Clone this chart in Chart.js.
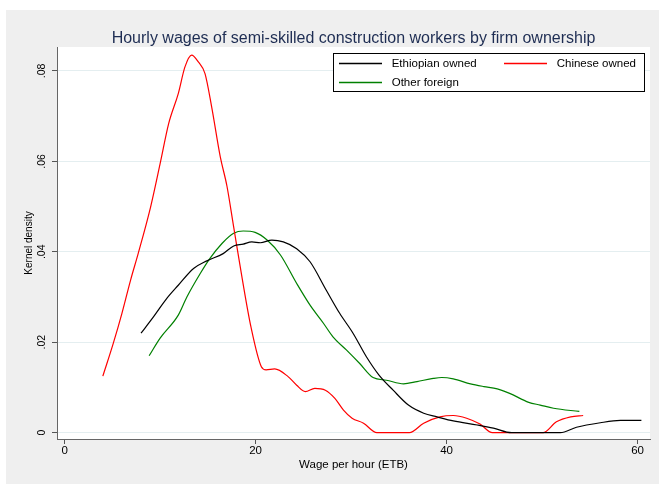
<!DOCTYPE html>
<html><head><meta charset="utf-8">
<script src="https://cdn.jsdelivr.net/npm/chart.js@4/dist/chart.umd.min.js"></script>
<style>html,body{margin:0;padding:0;background:#fff;}#wrap{width:659px;height:484px;}</style>
</head><body><div id="wrap"><canvas id="c" width="659" height="484"></canvas></div>
<script>
const chartTitle = 'Hourly wages of semi-skilled construction workers by firm ownership';
const seriesNames = ['Ethiopian owned', 'Chinese owned', 'Other foreign'];
const xTitle = 'Wage per hour (ETB)';
const yTitle = 'Kernel density';

const ethX = [8.0, 9.3, 10.7, 11.9, 13.5, 14.9, 16.6, 17.7, 18.7, 19.6, 20.5, 21.7, 22.9, 24.3, 25.7, 27.4, 28.8, 30.2, 31.6, 32.9, 34.4, 36.0, 37.6, 39.0, 40.7, 43.2, 44.9, 46.8, 51.9, 53.6, 56.1, 58.2, 60.4];
const ethY = [0.0220, 0.0256, 0.0297, 0.0326, 0.0363, 0.0380, 0.0396, 0.0413, 0.0417, 0.0422, 0.0420, 0.0426, 0.0422, 0.0407, 0.0378, 0.0315, 0.0264, 0.0220, 0.0168, 0.0128, 0.0094, 0.0061, 0.0043, 0.0035, 0.0026, 0.0017, 0.0010, 0.0000, 0.0000, 0.0012, 0.0022, 0.0027, 0.0027];

const chnX = [4.0, 5.1, 6.0, 6.9, 7.7, 9.0, 10.0, 10.9, 11.9, 12.6, 13.3, 14.0, 14.7, 15.4, 16.3, 17.0, 17.7, 18.6, 19.5, 20.6, 21.1, 22.0, 23.4, 24.3, 25.2, 26.2, 27.3, 28.3, 29.2, 30.1, 31.3, 32.7, 36.1, 37.6, 39.3, 40.7, 42.1, 43.5, 44.8, 50.1, 51.5, 53.0, 54.3];
const chnY = [0.0125, 0.0198, 0.0264, 0.0337, 0.0396, 0.0499, 0.0595, 0.0684, 0.0750, 0.0809, 0.0835, 0.0820, 0.0794, 0.0720, 0.0610, 0.0545, 0.0455, 0.0340, 0.0235, 0.0146, 0.0139, 0.0141, 0.0124, 0.0105, 0.0091, 0.0098, 0.0094, 0.0076, 0.0050, 0.0032, 0.0021, 0.0000, 0.0000, 0.0021, 0.0035, 0.0038, 0.0032, 0.0019, 0.0000, 0.0000, 0.0024, 0.0035, 0.0038];

const othX = [8.85, 10.0, 11.9, 12.8, 14.2, 15.2, 16.5, 17.7, 18.7, 19.95, 21.2, 22.6, 24.3, 25.7, 27.1, 28.1, 29.5, 30.9, 32.3, 33.7, 35.5, 36.9, 38.6, 39.5, 40.7, 42.5, 43.9, 45.3, 46.6, 48.6, 49.8, 51.2, 53.9];
const othY = [0.0170, 0.0209, 0.0260, 0.0300, 0.0352, 0.0385, 0.0419, 0.0441, 0.0446, 0.0443, 0.0426, 0.0393, 0.0330, 0.0282, 0.0242, 0.0212, 0.0183, 0.0153, 0.0122, 0.0116, 0.0108, 0.0113, 0.0120, 0.0122, 0.0119, 0.0108, 0.0102, 0.0097, 0.0087, 0.0067, 0.0061, 0.0054, 0.0047];

const xTicks = [0, 20, 40, 60];
const yTicks = [0, 0.02, 0.04, 0.06, 0.08];
const yTickLabels = ['0', '.02', '.04', '.06', '.08'];

const FONT = '"Liberation Sans", Arial, sans-serif';
const toPts = (xs, ys) => xs.map((x, i) => ({x: x, y: ys[i]}));

const bgPlugin = {
  id: 'bg',
  beforeDraw(chart) {
    const {ctx, chartArea: a} = chart;
    ctx.save();
    ctx.fillStyle = '#ffffff';
    ctx.fillRect(0, 0, chart.width, chart.height);
    ctx.fillStyle = '#efefef';
    ctx.fillRect(6, 10, chart.width - 6, chart.height - 10);
    ctx.fillStyle = '#ffffff';
    ctx.fillRect(a.left, a.top, a.right - a.left, a.bottom - a.top);
    ctx.restore();
  }
};

const decoPlugin = {
  id: 'deco',
  afterDraw(chart) {
    const {ctx, chartArea: a} = chart;
    ctx.save();
    // title
    ctx.font = '16px ' + FONT;
    ctx.fillStyle = '#1e2d53';
    ctx.textAlign = 'center';
    ctx.textBaseline = 'alphabetic';
    ctx.fillText(chartTitle, (a.left + a.right) / 2, 43);
    // legend
    const right = a.right - 5, top = a.top + 6, w = 312, h = 39;
    const left = right - w;
    ctx.fillStyle = '#ffffff';
    ctx.fillRect(left, top, w, h);
    ctx.strokeStyle = '#000000';
    ctx.lineWidth = 1;
    ctx.strokeRect(left + 0.5, top + 0.5, w - 1, h - 1);
    const slots = [
      {sx: left + 6, ty: top + 10.5},
      {sx: left + 171, ty: top + 10.5},
      {sx: left + 6, ty: top + 29.5}
    ];
    ctx.font = '11.5px ' + FONT;
    ctx.textAlign = 'left';
    ctx.textBaseline = 'middle';
    chart.data.datasets.forEach((ds, i) => {
      const s = slots[i];
      ctx.strokeStyle = ds.borderColor;
      ctx.lineWidth = 1.4;
      ctx.beginPath();
      ctx.moveTo(s.sx, s.ty);
      ctx.lineTo(s.sx + 43, s.ty);
      ctx.stroke();
      ctx.fillStyle = '#000000';
      ctx.fillText(ds.label, s.sx + 52.7, s.ty + 0.5);
    });
    ctx.restore();
  }
};

new Chart(document.getElementById('c'), {
  type: 'scatter',
  data: {
    datasets: [
      {label: seriesNames[0], data: toPts(ethX, ethY), borderColor: '#000000'},
      {label: seriesNames[1], data: toPts(chnX, chnY), borderColor: '#ff0000'},
      {label: seriesNames[2], data: toPts(othX, othY), borderColor: '#008000'}
    ].map(d => Object.assign(d, {showLine: true, pointRadius: 0, borderWidth: 1.2, cubicInterpolationMode: 'monotone', fill: false}))
  },
  options: {
    responsive: false,
    devicePixelRatio: 1,
    animation: false,
    layout: {padding: {top: 47, right: 9, left: 0, bottom: 0}},
    plugins: {legend: {display: false}, title: {display: false}, tooltip: {enabled: false}},
    scales: {
      x: {
        type: 'linear', min: -0.8, max: 61.3,
        afterFit(s) { s.height = 45; },
        afterBuildTicks(s) { s.ticks = xTicks.map(v => ({value: v})); },
        ticks: {padding: 0, maxRotation: 0, color: '#000', font: {family: FONT, size: 11.5}},
        grid: {drawOnChartArea: false, drawTicks: true, tickLength: 5, tickColor: '#555', tickWidth: 1},
        border: {display: true, color: '#666', width: 1},
        title: {display: true, text: xTitle, color: '#000', font: {family: FONT, size: 11.5}, padding: {top: 0, bottom: 12}}
      },
      y: {
        type: 'linear', min: -0.0014, max: 0.0853,
        afterFit(s) { s.width = 57; },
        afterBuildTicks(s) { s.ticks = yTicks.map(v => ({value: v})); },
        ticks: {minRotation: 90, maxRotation: 90, crossAlign: 'center', padding: 3, color: '#000', font: {family: FONT, size: 10.5},
          callback: (v) => { const i = yTicks.indexOf(v); return i >= 0 ? yTickLabels[i] : ''; }},
        grid: {color: '#e4eef0', lineWidth: 1, drawTicks: true, tickLength: 5, tickColor: '#555', tickWidth: 1},
        border: {display: true, color: '#666', width: 1},
        title: {display: true, text: yTitle, color: '#000', font: {family: FONT, size: 10}, padding: {top: 23, bottom: 0}}
      }
    }
  },
  plugins: [bgPlugin, decoPlugin]
});
</script>
</body></html>
